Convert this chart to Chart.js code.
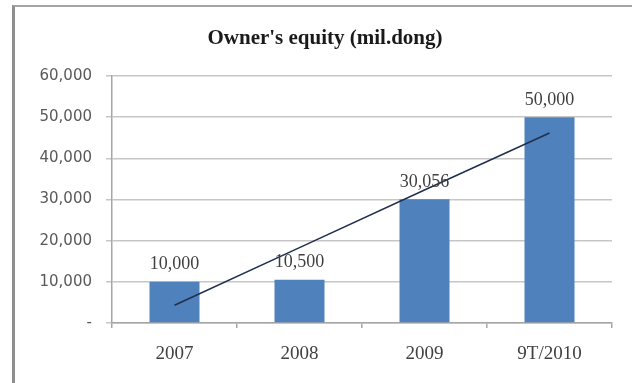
<!DOCTYPE html>
<html>
<head>
<meta charset="utf-8">
<script src="https://cdn.jsdelivr.net/npm/chart.js@4/dist/chart.umd.min.js"></script>
<style>
  body { margin: 0; background: #fff; }
  #wrap { position: relative; width: 632px; height: 383px; overflow: hidden; }
  #frame {
    position: absolute; left: 12px; top: 5px; width: 640px; height: 400px;
    border-left: 3px solid #8e8e8e; border-top: 2px solid #a4a4a4;
  }
  canvas { position: absolute; left: 0; top: 0; }
</style>
</head>
<body>
<div id="wrap">
  <div id="frame"></div>
  <canvas id="equity" width="632" height="383"></canvas>
</div>
<script>
"use strict";

const titleText = "Owner's equity (mil.dong)";
const years = ["2007", "2008", "2009", "9T/2010"];
const equity = [10000, 10500, 30056, 50000];
// trend line
const trend = [4300, 18300, 32300, 46150];

const ctx = document.getElementById("equity").getContext("2d");

const fmt = v => v.toLocaleString("en-US");

const titlePlugin = {
  id: "chartTitle",
  afterDraw(chart) {
    const c = chart.ctx;
    c.save();
    c.font = "bold 21px 'Liberation Serif'";
    c.fillStyle = "#1a1a1a";
    c.textAlign = "center";
    c.textBaseline = "alphabetic";
    c.fillText(titleText, 325, 44);
    c.restore();
  }
};

const valueLabels = {
  id: "valueLabels",
  afterDatasetsDraw(chart) {
    const c = chart.ctx;
    const meta = chart.getDatasetMeta(1);
    c.save();
    c.font = "18px 'Liberation Serif'";
    c.fillStyle = "#404040";
    c.textAlign = "center";
    c.textBaseline = "alphabetic";
    meta.data.forEach((bar, i) => {
      c.fillText(fmt(equity[i]), bar.x, bar.y - 12.5);
    });
    c.restore();
  }
};

const equityChart = new Chart(ctx, {
  type: "bar",
  data: {
    labels: years,
    datasets: [
      {
        type: "line",
        label: "Trend",
        data: trend,
        borderColor: "#1f2f4d",
        borderWidth: 1.5,
        pointRadius: 0,
        fill: false,
        order: 0
      },
      {
        label: "Owner's equity",
        data: equity,
        backgroundColor: "#4f81bd",
        barPercentage: 0.4,
        categoryPercentage: 1.0,
        order: 1
      }
    ]
  },
  options: {
    responsive: false,
    animation: false,
    layout: { padding: { top: 76, right: 20, left: 0, bottom: 0 } },
    plugins: {
      legend: { display: false },
      tooltip: { enabled: false },
      title: { display: false }
    },
    scales: {
      x: {
        afterFit: scale => { scale.height = 60; },
        grid: {
          offset: true,
          drawOnChartArea: false,
          tickLength: 5,
          color: "#a6a6a6",
          lineWidth: 1.5
        },
        border: { color: "#a6a6a6", width: 1.5 },
        ticks: {
          font: { family: "'Liberation Serif'", size: 19 },
          color: "#404040",
          padding: 15
        }
      },
      y: {
        min: 0,
        max: 60000,
        afterFit: scale => { scale.width = 112; },
        grid: { color: "#c6c6c6", lineWidth: 1.5, tickLength: 6 },
        border: { color: "#a6a6a6", width: 1.5 },
        ticks: {
          stepSize: 10000,
          padding: 14,
          font: { family: "'DejaVu Sans'", size: 15 },
          color: "#595959",
          callback: v => (v === 0 ? "-" : fmt(v))
        }
      }
    }
  },
  plugins: [titlePlugin, valueLabels]
});
</script>
</body>
</html>
